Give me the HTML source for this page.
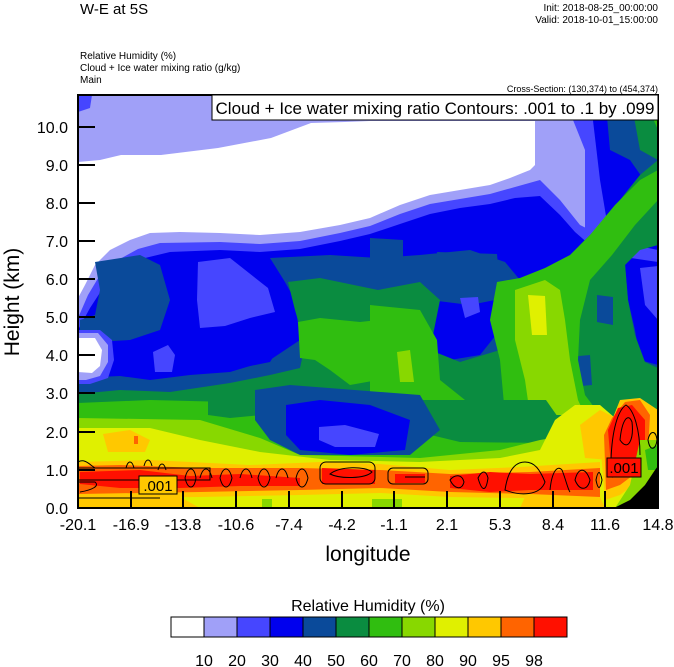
<!DOCTYPE html>
<html><head><meta charset="utf-8"><style>
html,body{margin:0;padding:0;background:#fff;}
svg{display:block;font-family:"Liberation Sans",Arial,sans-serif;}
</style></head><body>
<svg width="674" height="667" viewBox="0 0 674 667" xmlns="http://www.w3.org/2000/svg" xml:space="preserve">
<defs><clipPath id="pc"><rect x="78" y="95" width="580" height="413"/></clipPath></defs>
<g clip-path="url(#pc)">
<rect x="78" y="95" width="580" height="413" fill="#a0a0f8"/>
<path d="M78,95 L92,95 L90,108 L78,112Z" fill="#4646ff"/>
<path d="M563,95 L658,95 L658,260 L600,250 L585,235 L585,150Z" fill="#4646ff"/>
<path d="M590,95 L658,95 L658,250 L610,240 L600,180Z" fill="#0000ee"/>
<path d="M605,95 L658,95 L658,200 L630,160 L610,150Z" fill="#0a4a9a"/>
<path d="M630,95 L658,95 L658,160 L640,150Z" fill="#0a8c40"/>
<path d="M645,100 L658,100 L658,130Z" fill="#30be10"/>
<path d="M78,162 L100,160 L121,155 L161,155 L218,148 L271,138 L311,123 L345,122 L370,121 L535,121 L535,165 L530,170 L510,178 L490,185 L460,190 L430,195 L400,205 L370,218 L340,225 L300,232 L260,235 L220,233 L180,232 L150,233 L130,240 L110,250 L95,265 L85,285 L78,298Z" fill="#fff"/>
<path d="M78,318 L88,295 L100,275 L118,260 L138,249 L160,243 L220,242 L260,244 L300,241 L340,233 L370,226 L400,214 L430,204 L460,199 L490,194 L515,187 L540,180 L560,200 L580,225 L600,235 L658,255 L658,508 L78,508Z" fill="#4646ff"/>
<path d="M78,330 L90,308 L105,285 L125,268 L145,258 L170,252 L220,250 L260,252 L300,249 L340,241 L370,234 L400,224 L430,214 L460,208 L490,204 L515,198 L540,196 L560,215 L575,232 L590,245 L610,255 L658,262 L658,508 L78,508Z" fill="#0000ee"/>
<path d="M95,262 L140,255 L160,265 L170,300 L160,330 L130,340 L95,342 L80,335 L80,320 L95,315 L100,290Z" fill="#0a4a9a"/>
<path d="M270,258 L330,255 L378,258 L420,255 L450,252 L470,250 L505,262 L520,280 L540,300 L560,300 L570,280 L590,270 L620,262 L658,265 L658,508 L78,508 L78,378 L120,376 L150,380 L190,375 L230,372 L270,360 L300,340 L295,300 L285,282Z" fill="#0a4a9a"/>
<path d="M370,238 L403,240 L403,275 L380,278 L370,270Z" fill="#0a4a9a"/>
<path d="M437,252 L497,254 L500,290 L485,302 L460,300 L440,290Z" fill="#0a4a9a"/>
<path d="M120,350 L170,345 L220,350 L260,356 L285,345 L290,330 L270,362 L230,370 L190,372 L150,376 L120,372Z" fill="#0000ee"/>
<path d="M430,300 L470,305 L495,300 L500,330 L480,355 L450,360 L430,350 L420,320Z" fill="#0000ee"/>
<path d="M625,262 L658,262 L658,365 L640,360 L635,330 L628,300Z" fill="#0000ee"/>
<path d="M198,262 L230,258 L268,288 L275,312 L250,318 L225,326 L200,328 L197,300Z" fill="#4646ff"/>
<path d="M153,352 L168,345 L175,355 L172,372 L155,372Z" fill="#4646ff"/>
<path d="M460,298 L478,297 L480,312 L465,318Z" fill="#4646ff"/>
<path d="M640,268 L658,266 L658,320 L645,305Z" fill="#4646ff"/>
<!-- left white blob -->
<path d="M78,330 L100,330 L112,340 L114,360 L108,378 L90,384 L78,384Z" fill="#4646ff"/>
<path d="M78,333 L98,333 L108,345 L108,362 L100,376 L86,380 L78,380Z" fill="#a0a0f8"/>
<path d="M78,338 L95,338 L102,350 L100,366 L92,373 L78,372Z" fill="#fff"/>
<path d="M288,282 L320,278 L378,290 L420,282 L440,300 L430,350 L460,362 L500,350 L510,300 L520,280 L545,280 L560,270 L580,245 L600,225 L620,200 L640,175 L658,160 L658,245 L640,250 L625,265 L628,300 L635,335 L645,362 L658,368 L658,508 L78,508 L78,394 L120,390 L170,392 L230,383 L270,375 L300,368 L305,345 L295,310Z" fill="#0a8c40"/>
<path d="M597,295 L613,297 L613,325 L597,322Z" fill="#0a4a9a"/>
<path d="M557,358 L590,355 L592,385 L560,388Z" fill="#0a4a9a"/>
<path d="M298,322 L320,318 L360,322 L378,320 L378,380 L350,385 L330,370 L315,360 L300,358Z" fill="#30be10"/>
<path d="M370,305 L420,310 L437,340 L440,380 L465,400 L470,415 L370,415Z" fill="#30be10"/>
<path d="M497,282 L520,278 L545,268 L570,255 L590,235 L615,205 L640,180 L658,170 L658,200 L635,225 L612,255 L590,280 L580,320 L578,360 L585,395 L600,415 L505,415 L500,360 L490,320Z" fill="#30be10"/>
<path d="M78,403 L150,400 L230,402 L270,408 L290,415 L78,415Z" fill="#30be10"/>
<path d="M397,352 L410,350 L414,382 L400,382Z" fill="#88d800"/>
<path d="M515,290 L545,280 L560,290 L565,320 L570,360 L578,400 L585,415 L530,415 L525,380 L515,340Z" fill="#88d800"/>
<path d="M528,295 L545,296 L547,335 L532,335Z" fill="#e0f000"/>
<path d="M78,415 L208,410 L255,412 L286,415 L420,430 L460,438 L500,440 L546,440 L580,430 L600,420 L658,420 L658,508 L78,508Z" fill="#30be10"/>
<path d="M208,400 L262,400 L262,415 L230,418 L208,415Z" fill="#0a8c40"/>
<path d="M390,400 L546,400 L560,420 L546,443 L460,442 L410,430Z" fill="#0a8c40"/>
<path d="M255,390 L290,385 L420,395 L440,430 L410,455 L300,455 L270,440 L255,420Z" fill="#0a4a9a"/>
<path d="M286,405 L320,400 L370,405 L410,420 L405,450 L350,455 L300,450 L286,435Z" fill="#0000ee"/>
<path d="M319,427 L345,425 L379,434 L375,447 L335,447 L319,440Z" fill="#4646ff"/>
<path d="M78,418 L200,420 L260,438 L300,455 L420,458 L500,450 L540,440 L600,430 L658,440 L658,508 L78,508Z" fill="#88d800"/>
<path d="M78,428 L150,428 L200,440 L260,452 L330,460 L420,462 L500,458 L540,450 L555,420 L575,405 L600,405 L658,455 L658,508 L78,508Z" fill="#e0f000"/>
<path d="M580,425 L600,410 L620,420 L610,460 L585,458Z" fill="#ffc800"/>
<path d="M103,434 L130,430 L150,440 L145,452 L108,452Z" fill="#ffc800"/>
<rect x="134" y="436" width="4" height="8" fill="#ff6400"/>
<path d="M78,462 L150,460 L250,465 L320,462 L380,464 L450,470 L520,467 L600,462 L600,500 L520,498 L450,497 L380,493 L300,495 L200,497 L78,498Z" fill="#ffc800"/>
<path d="M78,466 L120,465 L200,468 L300,468 L380,470 L450,474 L530,472 L600,468 L600,497 L530,494 L450,492 L380,488 L300,490 L200,492 L78,494Z" fill="#ff6400"/>
<path d="M80,472 L140,470 L190,476 L240,474 L300,478 L300,486 L240,486 L180,488 L120,488 L80,484Z" fill="#ff1000"/>
<path d="M322,468 L375,470 L375,484 L322,484Z" fill="#ff1000"/>
<path d="M395,474 L425,474 L425,483 L395,483Z" fill="#ff1000"/>
<path d="M450,476 L490,472 L530,474 L593,472 L593,490 L530,490 L490,492 L450,488Z" fill="#ff1000"/>
<path d="M78,498 L180,497 L200,508 L78,508Z" fill="#ffc800"/>
<path d="M525,497 L600,497 L605,508 L520,508Z" fill="#ffc800"/>
<rect x="262" y="499" width="10" height="9" fill="#88d800"/>
<rect x="372" y="499" width="30" height="9" fill="#88d800"/>
<path d="M600,440 L612,420 L620,400 L640,398 L658,410 L658,470 L640,480 L620,495 L605,500Z" fill="#ffc800"/>
<path d="M604,435 L612,418 L625,402 L640,400 L650,415 L648,450 L640,470 L620,485 L606,490Z" fill="#ff6400"/>
<path d="M608,430 L618,408 L632,405 L645,420 L645,450 L635,468 L612,478Z" fill="#ff1000"/>
<path d="M640,440 L658,440 L658,480 L645,485 L635,495 L625,508 L615,508 L630,485Z" fill="#88d800"/>
<path d="M645,450 L658,445 L658,470 L648,470Z" fill="#30be10"/>
<path d="M614,508 L630,500 L645,485 L655,470 L658,466 L658,508Z" fill="#000"/>
<g fill="none" stroke="#000" stroke-width="1">
<path d="M78,462 C85,458 90,465 95,468 L78,468 M78,482 L95,482 C100,486 92,490 80,492"/>
<path d="M78,480 L210,480 L210,468 L78,468"/>
<path d="M78,498 L160,498"/>
<rect x="320" y="462" width="55" height="22" rx="6"/>
<path d="M330,474 C340,466 365,466 372,472 C365,479 340,479 330,474Z"/>
<rect x="388" y="468" width="40" height="16" rx="5"/>
<path d="M405,477 L425,477"/>
<path d="M126,468 C128,460 132,460 134,468 M144,466 C146,458 150,458 152,466 M158,470 C160,462 164,462 166,470"/>
<path d="M185,478 C188,466 194,466 196,478 M200,478 C203,466 209,466 212,478 M220,478 C223,466 229,466 232,478 M240,478 C243,466 249,466 252,478 M258,478 C261,466 267,466 270,478 M276,478 C279,466 285,466 288,478 M296,478 C299,466 305,466 308,478"/>
<path d="M185,478 C188,490 194,490 196,478 M220,478 C223,490 229,490 232,478 M258,478 C261,490 267,490 270,478 M296,478 C299,490 305,490 308,478"/>
<path d="M450,480 C455,474 462,474 464,482 C462,490 455,490 450,480Z"/>
<path d="M478,478 C482,470 486,470 488,478 C486,492 482,492 478,478Z"/>
<path d="M505,490 C508,470 515,462 525,462 C535,462 540,470 545,482 C540,496 520,496 505,490Z"/>
<path d="M550,490 C552,470 558,465 562,470 C566,480 568,490 570,492 M575,480 C578,468 585,466 590,480 C588,490 580,492 575,480Z"/>
<path d="M596,480 C598,470 600,470 602,480 C600,490 598,490 596,480Z"/>
<path d="M611,460 C612,430 618,410 626,405 C634,410 640,430 640,455 M620,440 C622,420 628,412 632,422 C634,440 628,452 620,440Z"/>
<path d="M648,440 C650,430 656,430 657,440 C656,450 650,452 648,440Z"/>
</g>
<rect x="139" y="476" width="38" height="18" fill="#ffc800" stroke="#000" stroke-width="1"/>
<text x="158" y="491" font-size="15" text-anchor="middle">.001</text>
<rect x="607" y="458" width="34" height="19" fill="#ff1000" stroke="#000" stroke-width="1"/>
<text x="624" y="473" font-size="15" text-anchor="middle">.001</text>
</g>
<rect x="78" y="95" width="580" height="413" fill="none" stroke="#000" stroke-width="2"/>
<rect x="212" y="95" width="446" height="25" fill="#fff" stroke="#000" stroke-width="1"/>
<text x="435" y="114" font-size="17" text-anchor="middle">Cloud + Ice water mixing ratio Contours: .001 to .1 by .099</text>
<g stroke="#000" stroke-width="2">
<line x1="78" y1="127" x2="95" y2="127"/><line x1="78" y1="165" x2="95" y2="165"/><line x1="78" y1="203" x2="95" y2="203"/><line x1="78" y1="241" x2="95" y2="241"/><line x1="78" y1="279" x2="95" y2="279"/><line x1="78" y1="317" x2="95" y2="317"/><line x1="78" y1="355" x2="95" y2="355"/><line x1="78" y1="393" x2="95" y2="393"/><line x1="78" y1="432" x2="95" y2="432"/><line x1="78" y1="470" x2="95" y2="470"/>
<line x1="131" y1="508" x2="131" y2="491"/><line x1="183" y1="508" x2="183" y2="491"/><line x1="236" y1="508" x2="236" y2="491"/><line x1="289" y1="508" x2="289" y2="491"/><line x1="342" y1="508" x2="342" y2="491"/><line x1="394" y1="508" x2="394" y2="491"/><line x1="447" y1="508" x2="447" y2="491"/><line x1="500" y1="508" x2="500" y2="491"/><line x1="553" y1="508" x2="553" y2="491"/><line x1="605" y1="508" x2="605" y2="491"/>
</g>
<g font-size="16" text-anchor="end">
<text x="68" y="133">10.0</text><text x="68" y="171">9.0</text><text x="68" y="209">8.0</text><text x="68" y="247">7.0</text><text x="68" y="285">6.0</text><text x="68" y="323">5.0</text><text x="68" y="361">4.0</text><text x="68" y="399">3.0</text><text x="68" y="438">2.0</text><text x="68" y="476">1.0</text><text x="68" y="514">0.0</text>
</g>
<g font-size="16" text-anchor="middle">
<text x="78" y="530">-20.1</text><text x="131" y="530">-16.9</text><text x="183" y="530">-13.8</text><text x="236" y="530">-10.6</text><text x="289" y="530">-7.4</text><text x="342" y="530">-4.2</text><text x="394" y="530">-1.1</text><text x="447" y="530">2.1</text><text x="500" y="530">5.3</text><text x="553" y="530">8.4</text><text x="605" y="530">11.6</text><text x="658" y="530">14.8</text>
</g>
<text x="368" y="561" font-size="21" text-anchor="middle">longitude</text>
<text x="0" y="0" font-size="21" text-anchor="middle" transform="translate(19,302) rotate(-90)">Height (km)</text>
<text x="80" y="14" font-size="15">W-E at 5S</text>
<text x="658" y="11" font-size="10" text-anchor="end">Init: 2018-08-25_00:00:00</text>
<text x="658" y="23" font-size="10" text-anchor="end">Valid: 2018-10-01_15:00:00</text>
<text x="80" y="59" font-size="10">Relative Humidity   (%)</text>
<text x="80" y="71" font-size="10">Cloud + Ice water mixing ratio   (g/kg)</text>
<text x="80" y="83" font-size="10">Main</text>
<text x="658" y="92" font-size="9" text-anchor="end">Cross-Section: (130,374) to (454,374)</text>
<text x="368" y="611" font-size="16" text-anchor="middle">Relative Humidity  (%)</text>
<g stroke="#000" stroke-width="1">
<rect x="171" y="617" width="33" height="20" fill="#fff"/>
<rect x="204" y="617" width="33" height="20" fill="#a0a0f8"/>
<rect x="237" y="617" width="33" height="20" fill="#4646ff"/>
<rect x="270" y="617" width="33" height="20" fill="#0000ee"/>
<rect x="303" y="617" width="33" height="20" fill="#0a4a9a"/>
<rect x="336" y="617" width="33" height="20" fill="#0a8c40"/>
<rect x="369" y="617" width="33" height="20" fill="#30be10"/>
<rect x="402" y="617" width="33" height="20" fill="#88d800"/>
<rect x="435" y="617" width="33" height="20" fill="#e0f000"/>
<rect x="468" y="617" width="33" height="20" fill="#ffc800"/>
<rect x="501" y="617" width="33" height="20" fill="#ff6400"/>
<rect x="534" y="617" width="33" height="20" fill="#ff1000"/>
</g>
<g font-size="16" text-anchor="middle">
<text x="204" y="666">10</text><text x="237" y="666">20</text><text x="270" y="666">30</text><text x="303" y="666">40</text><text x="336" y="666">50</text><text x="369" y="666">60</text><text x="402" y="666">70</text><text x="435" y="666">80</text><text x="468" y="666">90</text><text x="501" y="666">95</text><text x="534" y="666">98</text>
</g>
</svg>
</body></html>
